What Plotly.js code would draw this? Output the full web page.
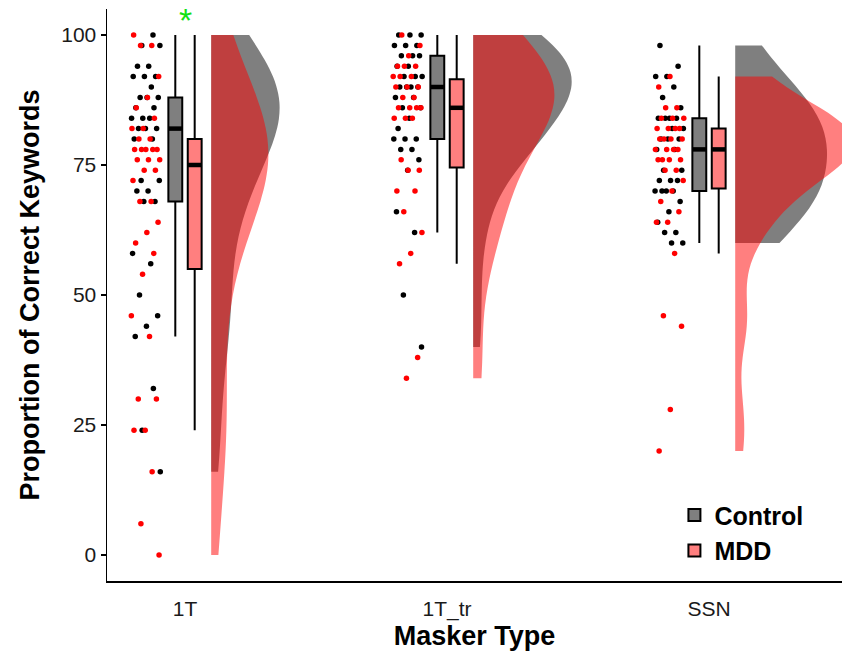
<!DOCTYPE html>
<html><head><meta charset="utf-8">
<script src="https://cdn.plot.ly/plotly-3.0.1.min.js"></script>
<style>html,body{margin:0;padding:0;background:#fff;} #chart{width:842px;height:653px;}</style>
</head><body><div id="chart"></div>
<script>
// ---------------- data ----------------
const categories = ['1T', '1T_tr', 'SSN'];
const groups = ['Control', 'MDD'];

const control_1T = [100, 98, 98, 94, 94, 92, 92, 92, 90, 88, 88, 88, 86, 86, 84, 84, 84,
  82, 82, 82, 80, 80, 72, 72, 70, 70, 68, 68, 58, 56, 50, 46, 44, 42, 32, 24, 16];
const mdd_1T = [100, 98, 98, 92, 88, 86, 84, 82, 82, 80, 80, 78, 78, 78, 78, 78, 76, 76, 76,
  74, 74, 72, 68, 68, 64, 62, 60, 58, 54, 46, 42, 30, 30, 24, 24, 16, 6, 0];
const control_1Ttr = [100, 100, 100, 98, 98, 98, 96, 96, 96, 94, 94, 92, 92, 92, 90, 90, 90, 90,
  88, 88, 86, 86, 84, 82, 80, 80, 80, 78, 78, 76, 74, 66, 62, 50, 40];
const mdd_1Ttr = [100, 98, 96, 94, 94, 94, 92, 92, 92, 90, 90, 90, 88, 88, 86, 86, 86, 86,
  84, 84, 84, 76, 74, 74, 70, 70, 66, 62, 58, 56, 38, 34];
const control_SSN = [98, 94, 92, 92, 90, 88, 86, 84, 84, 84, 84, 82, 82, 80, 80, 80, 78, 78,
  74, 74, 72, 72, 72, 70, 70, 70, 70, 68, 66, 64, 62, 62, 60, 60];
const mdd_SSN = [92, 90, 86, 86, 84, 84, 84, 82, 82, 82, 82, 80, 80, 80, 80, 78, 78, 78, 78,
  76, 76, 76, 76, 74, 74, 72, 70, 68, 66, 64, 64, 58, 46, 44, 28, 20];

// box-plot statistics (per category)
const control_q1 = [68, 80, 70];
const control_median = [82, 90, 78];
const control_q3 = [88, 96, 84];
const control_lower = [42, 62, 60];
const control_upper = [100, 100, 98];
const mdd_q1 = [55, 74.5, 70.5];
const mdd_median = [75, 86, 78];
const mdd_q3 = [80, 91.5, 82];
const mdd_lower = [24, 56, 58];
const mdd_upper = [100, 100, 92];

const yTicks = [0, 25, 50, 75, 100];

// ---------------- styling / positions ----------------
const controlData = [control_1T, control_1Ttr, control_SSN];
const mddData = [mdd_1T, mdd_1Ttr, mdd_SSN];
const BOX_OFF = 0.037, BOX_W = 0.053, VIO_OFF = 0.1, PT_CENTER = -0.15, JIT = 0.056;
const BW_ADJUST = 1.5;
const COL = {
  Control: {pt: 'black', fill: 'rgba(0,0,0,0.5)'},
  MDD: {pt: 'red', fill: 'rgba(255,0,0,0.5)'}
};
const FONT = 'Liberation Sans, Arial, Helvetica, sans-serif';

function quantile7(arr, p) {
  const s = arr.slice().sort((a, b) => a - b);
  const h = (s.length - 1) * p, lo = Math.floor(h), hi = Math.ceil(h);
  return s[lo] + (h - lo) * (s[hi] - s[lo]);
}
function nrd0(arr) {
  const n = arr.length, m = arr.reduce((a, b) => a + b, 0) / n;
  const sd = Math.sqrt(arr.reduce((a, b) => a + (b - m) * (b - m), 0) / (n - 1));
  const iqr = quantile7(arr, 0.75) - quantile7(arr, 0.25);
  return 0.9 * Math.min(sd, iqr / 1.34) * Math.pow(n, -0.2);
}
function jitterX(center, n, seed) {
  const out = [];
  for (let i = 0; i < n; i++) {
    const f = ((i + 1) * 0.6180339887 + seed) % 1;
    out.push(center + JIT * (2 * f - 1));
  }
  return out;
}

const traces = [];
// violins (control first, MDD over it)
[['Control', controlData], ['MDD', mddData]].forEach(([g, data]) => {
  data.forEach((vals, i) => {
    traces.push({
      type: 'violin', y: vals, x0: i + 1 + VIO_OFF, side: 'positive',
      spanmode: 'hard', scalegroup: 'all', scalemode: 'width',
      bandwidth: BW_ADJUST * nrd0(vals), points: false,
      box: {visible: false}, meanline: {visible: false},
      fillcolor: COL[g].fill, line: {width: 0, color: 'rgba(0,0,0,0)'},
      showlegend: false, hoverinfo: 'skip'
    });
  });
});
// boxes
const boxStats = {
  Control: {q1: control_q1, median: control_median, q3: control_q3, lo: control_lower, hi: control_upper, off: -BOX_OFF},
  MDD: {q1: mdd_q1, median: mdd_median, q3: mdd_q3, lo: mdd_lower, hi: mdd_upper, off: BOX_OFF}
};
groups.forEach(g => {
  const s = boxStats[g];
  const xs = categories.map((c, i) => i + 1 + s.off);
  traces.push({
    type: 'box', name: g, x: xs, q1: s.q1, median: s.median, q3: s.q3,
    lowerfence: s.lo, upperfence: s.hi, width: BOX_W, whiskerwidth: 0,
    boxpoints: false, fillcolor: COL[g].fill, line: {color: 'black', width: 2},
    legendgroup: g, showlegend: true, hoverinfo: 'skip'
  });
  // thick median segments
  const mx = [], my = [];
  xs.forEach((x, i) => { mx.push(x - BOX_W / 2, x + BOX_W / 2, null); my.push(s.median[i], s.median[i], null); });
  traces.push({type: 'scatter', mode: 'lines', x: mx, y: my, line: {color: 'black', width: 4.5},
    showlegend: false, hoverinfo: 'skip'});
});
// jittered points
[['Control', controlData, 0.13], ['MDD', mddData, 0.47]].forEach(([g, data, seed]) => {
  const xs = [], ys = [];
  data.forEach((vals, i) => {
    const jx = jitterX(i + 1 + PT_CENTER, vals.length, seed + i * 0.21);
    vals.forEach((v, k) => { xs.push(jx[k]); ys.push(v); });
  });
  traces.push({type: 'scatter', mode: 'markers', x: xs, y: ys,
    marker: {color: COL[g].pt, size: 5.5, line: {width: 0}}, showlegend: false, hoverinfo: 'skip'});
});

const layout = {
  width: 842, height: 653,
  margin: {l: 107, r: 0, t: 9, b: 72},
  paper_bgcolor: 'white', plot_bgcolor: 'white',
  font: {family: FONT, color: 'black'},
  violinmode: 'overlay', violingap: 0.1, violingroupgap: 0,
  showlegend: true,
  legend: {x: 0.772, y: 0.155, xanchor: 'left', yanchor: 'top',
    font: {size: 25, weight: 'bold', family: FONT}, bgcolor: 'rgba(0,0,0,0)', tracegroupgap: 0},
  xaxis: {range: [0.7023, 3.5076], tickvals: [1, 2, 3], ticktext: categories,
    showline: true, linecolor: 'black', linewidth: 1.5, ticks: '', showgrid: false, zeroline: false,
    tickfont: {size: 21, color: '#1a1a1a'}, ticklabelstandoff: 8,
    title: {text: 'Masker Type', font: {size: 27, weight: 'bold'}, standoff: 6}},
  yaxis: {range: [-5, 105], tickvals: yTicks, showline: true, linecolor: 'black', linewidth: 1.5,
    ticks: 'outside', ticklen: 5, tickwidth: 1.5, tickcolor: 'black', showgrid: false, zeroline: false,
    tickfont: {size: 21, color: '#1a1a1a'},
    title: {text: 'Proportion of Correct Keywords', font: {size: 27, weight: 'bold'}, standoff: 14}},
  annotations: [{x: 1, y: 102.8, xref: 'x', yref: 'y', text: '*', showarrow: false,
    font: {size: 34, color: 'rgb(20,225,20)', family: FONT}}]
};

Plotly.newPlot('chart', traces, layout, {staticPlot: true, displayModeBar: false});
</script></body></html>
